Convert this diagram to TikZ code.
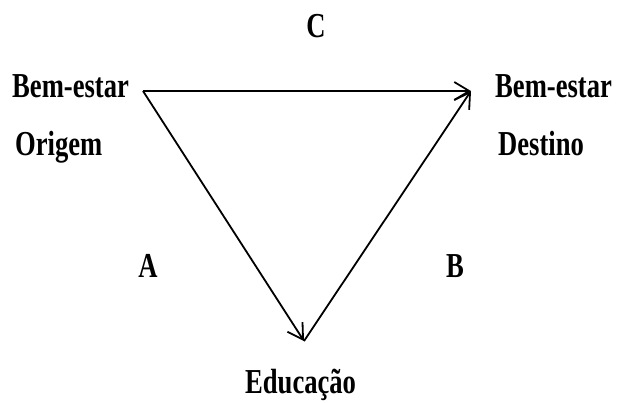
\documentclass[tikz,border=0pt]{standalone}
\usepackage{fontspec}
\setmainfont{Liberation Serif}
\usetikzlibrary{arrows.meta}
\tikzset{
  lbl/.style={inner sep=0pt, font=\fontsize{35}{35}\selectfont\bfseries},
  arr/.style={line width=1.8pt, -{Straight Barb[length=15pt, width=18pt, line width=1.8pt]}}
}
\newcommand{\sq}[1]{\scalebox{0.76}[1]{#1}}
\begin{document}
\begin{tikzpicture}[x=1pt,y=-1pt]
\useasboundingbox (0,0) rectangle (619,402);
\coordinate (o) at (143,91);
\coordinate (d) at (471,91);
\coordinate (e) at (304,341);
\draw[arr] (o) -- (d);
\draw[arr] (o) -- (e);
\draw[arr] (e) -- (d);
\node[lbl, anchor=base] (c) at (316,37) {\sq{C}};
\node[lbl, anchor=base west] (b1) at (12,97) {\sq{Bem-estar}};
\node[lbl, anchor=base west] (or) at (15,155) {\sq{Origem}};
\node[lbl, anchor=base west] (b2) at (495,97) {\sq{Bem-estar}};
\node[lbl, anchor=base west] (de) at (498,155) {\sq{Destino}};
\node[lbl, anchor=base] (a) at (148,277) {\sq{A}};
\node[lbl, anchor=base] (b) at (455,277) {\sq{B}};
\node[lbl, anchor=base west] (ed) at (245,393) {\sq{Educação}};
\end{tikzpicture}
\end{document}
